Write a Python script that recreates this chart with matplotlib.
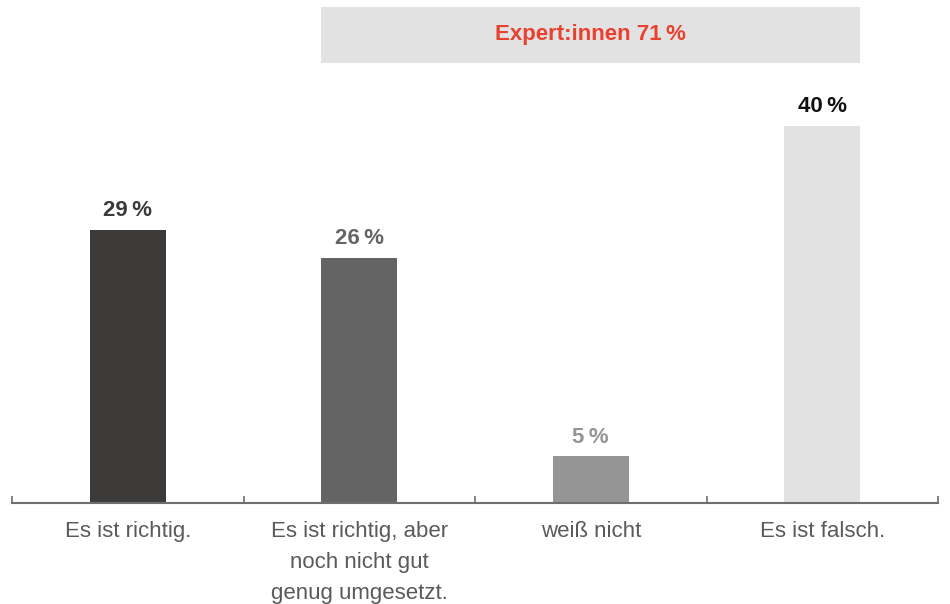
import numpy as np
import matplotlib.pyplot as plt

plt.rcParams['font.family'] = ['Liberation Sans', 'DejaVu Sans']

# data
categories = ['Es ist richtig.', 'Es ist richtig, aber\nnoch nicht gut\ngenug umgesetzt.',
              'weiß nicht', 'Es ist falsch.']
values = [29, 26, 5, 40]
bar_colors = ['#3c3b39', '#646464', '#959595', '#e2e2e2']
label_colors = ['#3c3b39', '#646464', '#959595', '#111111']
group_label = 'Expert:innen 71\u2009%'

fig = plt.figure(figsize=(9.5, 6.04), dpi=100)
ax = fig.add_axes([12 / 950, (604 - 503) / 604, 926 / 950, 496 / 604])

x = np.arange(len(categories))
width = 0.33
bars = ax.bar(x, values, width=width, color=bar_colors, zorder=2)

for xi, v, c in zip(x, values, label_colors):
    ax.annotate(f'{v}\u2009%', (xi, v), xytext=(0, 6), textcoords='offset points',
                ha='center', va='bottom', fontsize=16, fontweight='bold', color=c)

# grouping band over the last three answers
ymax = 52.6
band_lo = 46.7
ax.fill_between([x[1] - width / 2, x[3] + width / 2], band_lo, ymax,
                color='#e2e2e2', lw=0, zorder=1)
ax.text((x[1] + x[3]) / 2, (band_lo + ymax) / 2, group_label, ha='center', va='center',
        fontsize=16, fontweight='bold', color='#e8412f')

ax.set_xlim(-0.5, 3.5)
ax.set_ylim(0, ymax)
ax.set_yticks([])
for s in ['top', 'right', 'left']:
    ax.spines[s].set_visible(False)
ax.spines['bottom'].set_color('#6e6e6e')
ax.spines['bottom'].set_linewidth(1.5)

ax.set_xticks(x)
ax.set_xticklabels(categories, fontsize=16, color='#5a5a5a', linespacing=1.62)
ax.tick_params(axis='x', length=0, pad=13)
ax.set_xticks(np.arange(-0.5, 4, 1), minor=True)
ax.tick_params(axis='x', which='minor', direction='in', length=5, width=1.2, color='#6e6e6e')

fig.savefig('out.png', dpi=100)
